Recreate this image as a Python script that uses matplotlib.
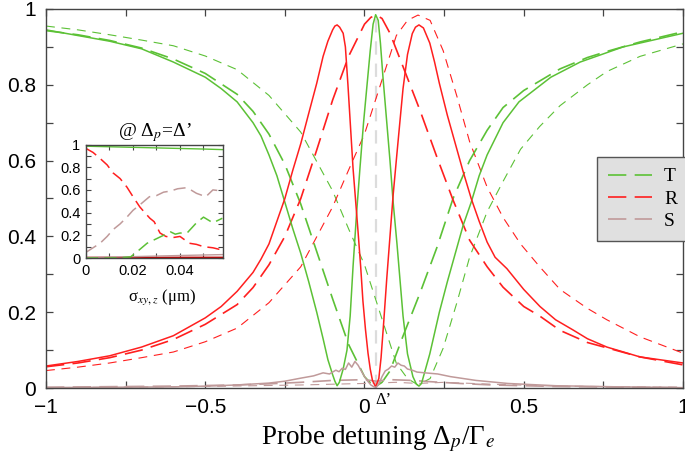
import matplotlib
matplotlib.use("Agg")
import matplotlib.pyplot as plt
from matplotlib.lines import Line2D
from matplotlib.ticker import MultipleLocator, FixedLocator, FixedFormatter

plt.rcParams['mathtext.fontset'] = 'stix'

# ---------------- main panel data (probe detuning / Gamma_e) ----------------
x_R_solid = [-1, -0.9, -0.8, -0.7, -0.6, -0.5, -0.45, -0.4, -0.375, -0.35, -0.325, -0.3, -0.275, -0.25,
             -0.225, -0.2, -0.175, -0.15, -0.13, -0.115, -0.1, -0.093, -0.086, -0.078, -0.067, -0.06,
             -0.052, -0.044, -0.036, -0.028, -0.02, -0.012, -0.005, 0.003, 0.011, 0.018, 0.025, 0.035,
             0.045, 0.052, 0.06, 0.07, 0.08, 0.09, 0.102, 0.112, 0.121, 0.135, 0.15, 0.16, 0.171,
             0.185, 0.205, 0.22, 0.235, 0.26, 0.285, 0.31, 0.335, 0.36, 0.385, 0.41, 0.447, 0.5, 0.551,
             0.6, 0.655, 0.7, 0.761, 0.865, 1.0]
R_solid = [0.058, 0.07, 0.085, 0.108, 0.138, 0.185, 0.215, 0.255, 0.28, 0.305, 0.34, 0.38, 0.44, 0.50,
           0.575, 0.645, 0.725, 0.804, 0.875, 0.915, 0.945, 0.955, 0.958, 0.952, 0.936, 0.90,
           0.80, 0.69, 0.58, 0.495, 0.41, 0.32, 0.23, 0.155, 0.092, 0.05, 0.02, 0.003,
           0.025, 0.08, 0.17, 0.29, 0.40, 0.51, 0.62, 0.71, 0.79, 0.88, 0.935, 0.952, 0.958,
           0.95, 0.91, 0.86, 0.804, 0.72, 0.645, 0.57, 0.50, 0.44, 0.385, 0.345, 0.315, 0.26, 0.215,
           0.18, 0.153, 0.13, 0.108, 0.082, 0.066]

x_T_solid = [-1, -0.9, -0.8, -0.7, -0.6, -0.5, -0.45, -0.4, -0.35, -0.325, -0.3, -0.275, -0.25, -0.225,
             -0.2, -0.175, -0.15, -0.13, -0.115, -0.1, -0.093, -0.086, -0.079, -0.067, -0.055, -0.045,
             -0.036, -0.025, -0.014, -0.003, 0.008, 0.018, 0.027, 0.035, 0.043, 0.05, 0.058, 0.07, 0.08,
             0.09, 0.102, 0.112, 0.121, 0.135, 0.152, 0.163, 0.171, 0.179, 0.185, 0.195, 0.205, 0.22,
             0.235, 0.26, 0.285, 0.31, 0.335, 0.36, 0.385, 0.435, 0.485, 0.585, 0.677, 0.812, 1.0]
T_solid = [0.945, 0.93, 0.915, 0.895, 0.86, 0.82, 0.79, 0.755, 0.70, 0.665, 0.615, 0.56, 0.49, 0.42,
           0.355, 0.28, 0.20, 0.13, 0.075, 0.035, 0.018, 0.006, 0.015, 0.05, 0.10, 0.19,
           0.32, 0.46, 0.583, 0.70, 0.80, 0.89, 0.96, 0.985, 0.97, 0.91, 0.82, 0.70, 0.60,
           0.49, 0.38, 0.28, 0.19, 0.09, 0.03, 0.01, 0.005, 0.012, 0.03, 0.06, 0.09, 0.145,
           0.20, 0.28, 0.355, 0.43, 0.49, 0.56, 0.615, 0.70, 0.755, 0.82, 0.86, 0.90, 0.936]

x_long = [-1, -0.9, -0.8, -0.7, -0.6, -0.5, -0.4, -0.35, -0.3, -0.25, -0.2, -0.15, -0.1, -0.05, 0.0,
          0.02, 0.037, 0.055, 0.08, 0.12, 0.174, 0.227, 0.278, 0.33, 0.385, 0.435, 0.5, 0.55,
          0.614, 0.7, 0.761, 0.865, 1.0]
R_long = [0.056, 0.066, 0.08, 0.10, 0.128, 0.168, 0.22, 0.265, 0.325, 0.40, 0.50, 0.628, 0.76, 0.875, 0.96,
          0.978, 0.984, 0.975, 0.936, 0.85, 0.733, 0.61, 0.496, 0.39, 0.32, 0.266, 0.215, 0.19,
          0.152, 0.12, 0.106, 0.082, 0.061]
x_T_long = [-1, -0.9, -0.8, -0.7, -0.6, -0.5, -0.4, -0.35, -0.3, -0.25, -0.2, -0.15, -0.1, -0.05, 0.0,
            0.02, 0.037, 0.055, 0.08, 0.12, 0.174, 0.227, 0.278, 0.33, 0.385, 0.435, 0.5, 0.55,
            0.614, 0.7, 0.761, 0.865, 1.0]
T_long = [0.943, 0.932, 0.917, 0.897, 0.868, 0.83, 0.775, 0.73, 0.67, 0.59, 0.485, 0.36, 0.235, 0.115, 0.03,
          0.012, 0.005, 0.015, 0.045, 0.135, 0.25, 0.37, 0.50, 0.60, 0.68, 0.74, 0.785, 0.81,
          0.842, 0.872, 0.888, 0.913, 0.94]

x_thin = [-1, -0.9, -0.8, -0.7, -0.6, -0.5, -0.4, -0.3, -0.2, -0.1, -0.05, 0.0, 0.05, 0.1, 0.135,
          0.168, 0.206, 0.247, 0.29, 0.33, 0.385, 0.435, 0.49, 0.55, 0.614, 0.7, 0.761, 0.865, 1.0]
R_thin = [0.046, 0.055, 0.066, 0.08, 0.095, 0.122, 0.158, 0.225, 0.32, 0.478, 0.575, 0.67, 0.80, 0.93, 0.97,
          0.984, 0.97, 0.89, 0.77, 0.65, 0.53, 0.45, 0.38, 0.32, 0.26, 0.21, 0.18, 0.135, 0.092]
T_thin = [0.955, 0.945, 0.932, 0.918, 0.903, 0.876, 0.84, 0.772, 0.675, 0.52, 0.42, 0.325, 0.195, 0.065, 0.025,
          0.008, 0.025, 0.105, 0.225, 0.345, 0.465, 0.545, 0.63, 0.69, 0.745, 0.80, 0.835, 0.875, 0.908]

x_S = [-1, -0.8, -0.6, -0.5, -0.4, -0.3, -0.25, -0.2, -0.16, -0.13, -0.11, -0.09, -0.08, -0.07,
       -0.06, -0.05, -0.04, -0.03, -0.02, -0.01, 0.0, 0.01, 0.02, 0.03, 0.037, 0.045, 0.055, 0.065,
       0.075, 0.085, 0.095, 0.105, 0.115, 0.125, 0.135, 0.15, 0.165, 0.19, 0.23, 0.27, 0.35, 0.45,
       0.6, 0.8, 1.0]
S_solid = [0.001, 0.002, 0.003, 0.005, 0.008, 0.013, 0.018, 0.026, 0.032, 0.04, 0.037, 0.047, 0.043, 0.052,
           0.049, 0.066, 0.055, 0.07, 0.06, 0.045, 0.03, 0.018, 0.008, 0.003, 0.002, 0.01, 0.03, 0.045,
           0.05, 0.058, 0.055, 0.066, 0.06, 0.058, 0.05, 0.047, 0.042, 0.04, 0.037, 0.03, 0.02, 0.012,
           0.006, 0.003, 0.001]
x_S_long = [-1, -0.6, -0.4, -0.3, -0.2, -0.1, 0.0, 0.037, 0.08, 0.15, 0.2, 0.3, 0.4, 0.6, 1.0]
S_long = [0.002, 0.005, 0.008, 0.011, 0.015, 0.02, 0.022, 0.018, 0.022, 0.02, 0.017, 0.012, 0.008, 0.004, 0.001]
x_S_thin = [-1, -0.5, -0.2, 0.0, 0.1, 0.168, 0.25, 0.4, 0.6, 1.0]
S_thin = [0.001, 0.004, 0.008, 0.012, 0.015, 0.012, 0.015, 0.01, 0.005, 0.002]

delta_prime = 0.037

# ---------------- inset data (at probe detuning = Delta') ----------------
sig_T_solid = [0, 0.01, 0.02, 0.03, 0.04, 0.05, 0.058]
T_in_solid = [0.985, 0.98, 0.975, 0.97, 0.965, 0.96, 0.955]
sig_low = [0, 0.02, 0.04, 0.058]
R_in_solid = [0.004, 0.004, 0.005, 0.005]
S_in_solid = [0.005, 0.012, 0.022, 0.03]

sig_R_long = [0, 0.003, 0.006, 0.009, 0.0115, 0.0145, 0.0174, 0.020, 0.0229, 0.025, 0.0272, 0.029,
              0.0315, 0.034, 0.037, 0.040, 0.044, 0.047, 0.05, 0.054, 0.058]
R_in_long = [0.965, 0.93, 0.877, 0.82, 0.75, 0.70, 0.625, 0.54, 0.45, 0.40, 0.35, 0.32,
             0.22, 0.19, 0.18, 0.19, 0.13, 0.12, 0.10, 0.09, 0.07]
sig_S_long = [0, 0.003, 0.006, 0.009, 0.0115, 0.0145, 0.0174, 0.020, 0.023, 0.027, 0.03, 0.033,
              0.036, 0.039, 0.043, 0.047, 0.051, 0.054, 0.058]
S_in_long = [0.05, 0.09, 0.13, 0.19, 0.25, 0.30, 0.36, 0.42, 0.47, 0.54, 0.55, 0.58,
             0.59, 0.61, 0.62, 0.57, 0.54, 0.60, 0.59]
sig_T_long = [0, 0.01, 0.015, 0.019, 0.022, 0.026, 0.03, 0.033, 0.036, 0.038, 0.04, 0.043,
              0.047, 0.05, 0.054, 0.058]
T_in_long = [0.0, 0.0, 0.003, 0.01, 0.06, 0.13, 0.17, 0.2, 0.23, 0.21, 0.22, 0.22,
             0.31, 0.36, 0.31, 0.35]

x_ticklabels = ["\u22121", "\u22120.5", "0", "0.5", "1"]
y_ticklabels = ["0", "0.2", "0.4", "0.6", "0.8", "1"]
legend_labels = ["T", "R", "S"]

# ---------------- styling ----------------
GREEN = "#5cc136"
RED = "#ff1f1f"
BROWN = "#c09a9a"
SPINE = "#444444"
LONG = (0, (11, 5))
THIN = (0, (8, 6))
SERIF = ["Liberation Serif", "DejaVu Serif"]
SANS = ["Liberation Sans", "DejaVu Sans"]

fig = plt.figure(figsize=(6.85, 4.54), dpi=100)
W, H = 685, 454
ax = fig.add_axes([46 / W, 1 - 388 / H, (683 - 46) / W, (388 - 9) / H])

ax.plot([delta_prime, delta_prime], [0, 1], color="#dcdcdc", lw=1.6, ls=(0, (6, 4)), zorder=1)

# thin dashed
ax.plot(x_thin, T_thin, color=GREEN, lw=0.8, ls=THIN)
ax.plot(x_thin, R_thin, color=RED, lw=0.8, ls=THIN)
ax.plot(x_S_thin, S_thin, color=BROWN, lw=0.8, ls=THIN)
# long dashed
ax.plot(x_T_long, T_long, color=GREEN, lw=1.2, ls=LONG)
ax.plot(x_long, R_long, color=RED, lw=1.2, ls=LONG)
ax.plot(x_S_long, S_long, color=BROWN, lw=1.2, ls=LONG)
# solid
ax.plot(x_T_solid, T_solid, color=GREEN, lw=1.1)
ax.plot(x_R_solid, R_solid, color=RED, lw=1.1)
ax.plot(x_S, S_solid, color=BROWN, lw=1.1)

ax.set_xlim(-1, 1)
ax.set_ylim(0, 1)
ax.xaxis.set_major_locator(FixedLocator([-1, -0.5, 0, 0.5, 1]))
ax.xaxis.set_major_formatter(FixedFormatter(x_ticklabels))
ax.xaxis.set_minor_locator(MultipleLocator(0.25))
ax.yaxis.set_major_locator(FixedLocator([0, 0.2, 0.4, 0.6, 0.8, 1.0]))
ax.yaxis.set_major_formatter(FixedFormatter(y_ticklabels))
ax.yaxis.set_minor_locator(MultipleLocator(0.1))
ax.tick_params(which="both", direction="in", top=True, right=True, length=5, width=0.9,
               color=SPINE, labelsize=15, pad=7)
for lab in ax.get_xticklabels() + ax.get_yticklabels():
    lab.set_family(SANS)
for s in ax.spines.values():
    s.set_color(SPINE)
    s.set_linewidth(1.0)

ax.set_xlabel("Probe detuning \u0394$_p$/\u0393$_e$", family=SERIF, fontsize=19.5)
ax.xaxis.set_label_coords((378 - 46) / 637, -36 / 379)
ax.text(0.058, -0.032, "\u0394\u2019", family=SERIF, fontsize=12, ha="center", va="center",
        transform=ax.transData, clip_on=False)

# legend
handles = [Line2D([], [], color=c, lw=1.2, ls=LONG) for c in (GREEN, RED, BROWN)]
leg = fig.legend(handles, legend_labels, loc="upper left",
                 bbox_to_anchor=(597 / W, 1 - 157 / H), borderaxespad=0,
                 prop={"family": SERIF, "size": 14}, handlelength=2.3, handletextpad=0.6,
                 borderpad=0.55, labelspacing=0.25, fancybox=False, framealpha=1)
leg.get_frame().set_facecolor("#e0e0e0")
leg.get_frame().set_edgecolor("#555555")
leg.get_frame().set_linewidth(1.0)

# inset
ins = fig.add_axes([86 / W, 1 - 258 / H, (223 - 86) / W, (258 - 144.5) / H])
ins.plot(sig_T_solid, T_in_solid, color=GREEN, lw=1.0)
ins.plot(sig_low, R_in_solid, color="#c00000", lw=1.2)
ins.plot(sig_low, S_in_solid, color=BROWN, lw=1.0)
ins.plot(sig_R_long, R_in_long, color=RED, lw=1.1, ls=(0, (8, 4)))
ins.plot(sig_S_long, S_in_long, color=BROWN, lw=1.1, ls=(0, (8, 4)))
ins.plot(sig_T_long, T_in_long, color=GREEN, lw=1.1, ls=(0, (8, 4)))
ins.set_xlim(0, 0.0583)
ins.set_ylim(0, 1)
ins.xaxis.set_major_locator(FixedLocator([0, 0.02, 0.04]))
ins.xaxis.set_major_formatter(FixedFormatter(["0", "0.02", "0.04"]))
ins.xaxis.set_minor_locator(MultipleLocator(0.01))
ins.yaxis.set_major_locator(FixedLocator([0, 0.2, 0.4, 0.6, 0.8, 1.0]))
ins.yaxis.set_major_formatter(FixedFormatter(y_ticklabels))
ins.yaxis.set_minor_locator(MultipleLocator(0.1))
ins.tick_params(which="both", direction="in", top=True, right=True, length=3.5, width=0.8,
                color=SPINE, labelsize=10.5, pad=4)
for lab in ins.get_xticklabels() + ins.get_yticklabels():
    lab.set_family(SANS)
for s in ins.spines.values():
    s.set_color(SPINE)
    s.set_linewidth(1.0)
ins.set_xlabel("\u03c3$_{xy,z}$ (\u03bcm)", family=SERIF, fontsize=12)
ins.xaxis.set_label_coords(0.555, -0.26)
ins.set_title("@ \u0394$_p$=\u0394\u2019", family=SERIF, fontsize=14, pad=3)

fig.savefig("out.png", dpi=100)
